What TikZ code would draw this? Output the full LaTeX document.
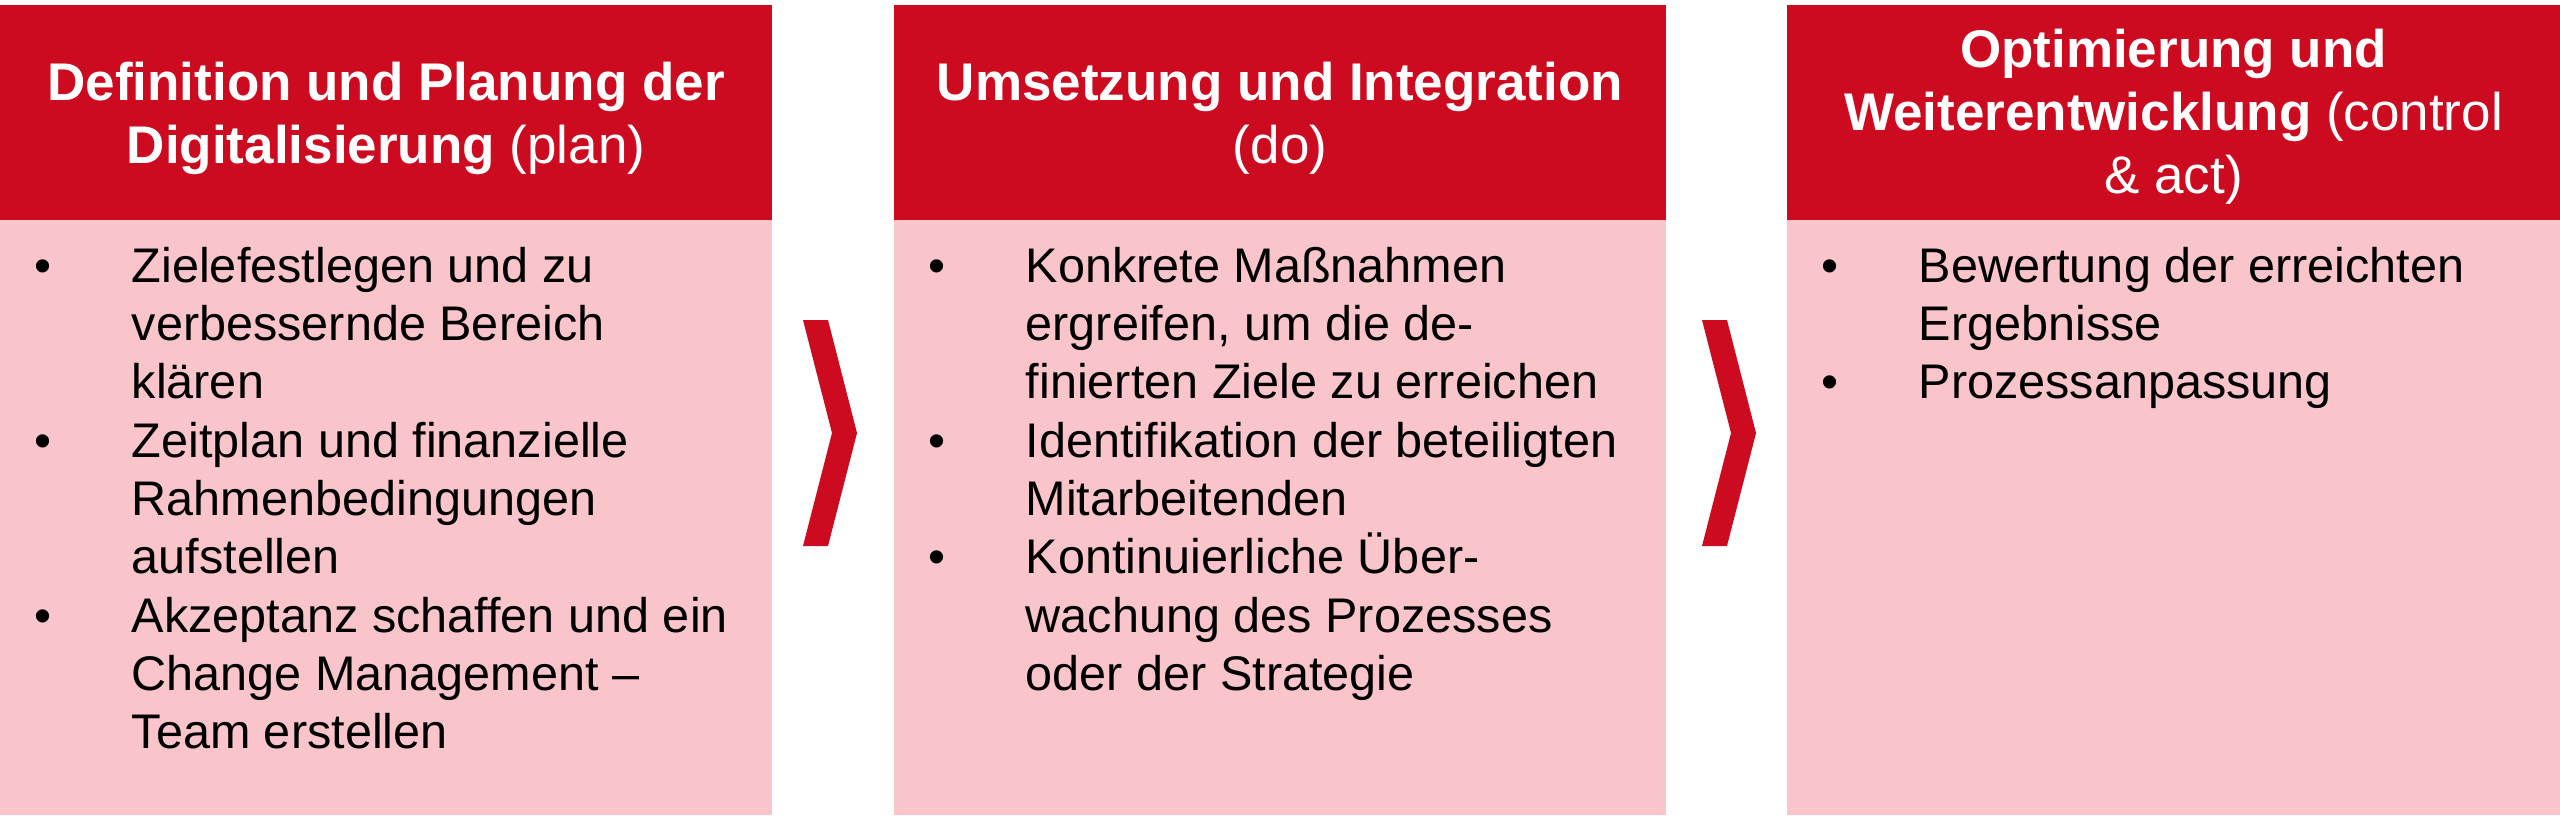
\documentclass[tikz,border=0pt]{standalone}
\usepackage{fontspec}
\setmainfont{Liberation Sans}
\definecolor{hdred}{RGB}{204,10,32}
\definecolor{bodypink}{RGB}{249,196,202}
\tikzset{
  hdbox/.style={fill=hdred, draw=none},
  bdbox/.style={fill=bodypink, draw=none},
  chev/.style={fill=hdred, draw=none},
  hdtxt/.style={anchor=base, inner sep=0pt, text=white, font=\fontsize{53}{63}\selectfont},
  bdtxt/.style={anchor=base west, inner sep=0pt, text=black, font=\fontsize{48.6}{58}\selectfont},
  bul/.style={anchor=base west, inner sep=0pt, text=black, font=\fontsize{48.6}{58}\selectfont},
}
\begin{document}
\begin{tikzpicture}[x=1pt,y=-1pt]
\useasboundingbox (0,0) rectangle (2560,815);
\fill[white] (0,0) rectangle (2560,815);
% columns
\path[hdbox] (0,5) rectangle (772,220);
\path[bdbox] (0,220) rectangle (772,815);
\path[hdbox] (894,5) rectangle (1666,220);
\path[bdbox] (894,220) rectangle (1666,815);
\path[hdbox] (1787,5) rectangle (2560,220);
\path[bdbox] (1787,220) rectangle (2560,815);
% chevrons
\path[chev] (803,320) -- (828,320) -- (857,433) -- (828,546) -- (803,546) -- (832,433) -- cycle;
\path[chev] (1702,320) -- (1727,320) -- (1756,433) -- (1727,546) -- (1702,546) -- (1731,433) -- cycle;
% headers
\node[hdtxt] (h1a) at (386,100) {\textbf{Definition und Planung der}};
\node[hdtxt] (h1b) at (386,163) {\textbf{Digitalisierung} (plan)};
\node[hdtxt] (h2a) at (1280,100) {\textbf{Umsetzung und Integration}};
\node[hdtxt] (h2b) at (1280,163) {(do)};
\node[hdtxt] (h3a) at (2173.5,67) {\textbf{Optimierung und}};
\node[hdtxt] (h3b) at (2173.5,130) {\textbf{Weiterentwicklung} (control};
\node[hdtxt] (h3c) at (2173.5,193) {\& act)};
% column 1 body
\node[bul] (b1a) at (34.5,282) {•};
\node[bul] (b1b) at (34.5,457) {•};
\node[bul] (b1c) at (34.5,632) {•};
\node[bdtxt] (t11) at (131.5,282) {Zielefestlegen und zu};
\node[bdtxt] (t12) at (131.5,340) {verbessernde Bereich};
\node[bdtxt] (t13) at (131.5,398) {klären};
\node[bdtxt] (t14) at (131.5,457) {Zeitplan und finanzielle};
\node[bdtxt] (t15) at (131.5,515) {Rahmenbedingungen};
\node[bdtxt] (t16) at (131.5,573) {aufstellen};
\node[bdtxt] (t17) at (131.5,632) {Akzeptanz schaffen und ein};
\node[bdtxt] (t18) at (131.5,690) {Change Management –};
\node[bdtxt] (t19) at (131.5,748) {Team erstellen};
% column 2 body
\node[bul] (b2a) at (928.5,282) {•};
\node[bul] (b2b) at (928.5,457) {•};
\node[bul] (b2c) at (928.5,573) {•};
\node[bdtxt] (t21) at (1025.5,282) {Konkrete Maßnahmen};
\node[bdtxt] (t22) at (1025.5,340) {ergreifen, um die de-};
\node[bdtxt] (t23) at (1025.5,398) {finierten Ziele zu erreichen};
\node[bdtxt] (t24) at (1025.5,457) {Identifikation der beteiligten};
\node[bdtxt] (t25) at (1025.5,515) {Mitarbeitenden};
\node[bdtxt] (t26) at (1025.5,573) {Kontinuierliche Über-};
\node[bdtxt] (t27) at (1025.5,632) {wachung des Prozesses};
\node[bdtxt] (t28) at (1025.5,690) {oder der Strategie};
% column 3 body
\node[bul] (b3a) at (1821.5,282) {•};
\node[bul] (b3b) at (1821.5,398) {•};
\node[bdtxt] (t31) at (1918.5,282) {Bewertung der erreichten};
\node[bdtxt] (t32) at (1918.5,340) {Ergebnisse};
\node[bdtxt] (t33) at (1918.5,398) {Prozessanpassung};
\end{tikzpicture}
\end{document}
